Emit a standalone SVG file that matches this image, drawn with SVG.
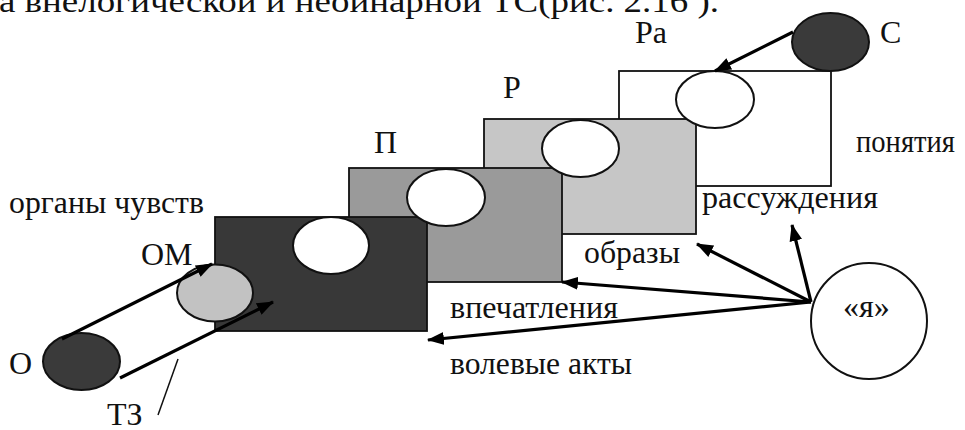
<svg xmlns="http://www.w3.org/2000/svg" width="965" height="430" viewBox="0 0 965 430">
<style>
text{font-family:'Liberation Serif','DejaVu Serif','Times New Roman',serif;font-size:32px;fill:#111}
.box{stroke:#111;stroke-width:1.8}
.el{stroke:#111;stroke-width:2}
.w{fill:#fff}
.con{stroke:#000;stroke-width:3.2;fill:none;stroke-linecap:butt}
</style>
<defs>
<marker id="ah" viewBox="0 0 16 12" refX="15" refY="6" markerWidth="17" markerHeight="13" markerUnits="userSpaceOnUse" orient="auto">
<path d="M0,0 L16,6 L0,12 z" fill="#000"/>
</marker>
</defs>
<rect width="965" height="430" fill="#fff"/>
<text x="-1" y="12" font-size="33" textLength="720" lengthAdjust="spacingAndGlyphs">а внелогической и неоинарной ТС(рис. 2.16 ).</text>

<g id="level-Ra">
<rect class="box" x="619" y="71" width="212" height="115" fill="#fff"/>
<text x="635" y="43">Ра</text>
<text x="856" y="152" textLength="99" lengthAdjust="spacingAndGlyphs">понятия</text>
</g>
<g id="level-R">
<rect class="box" x="484" y="119" width="212" height="115" fill="#c6c6c6"/>
<text x="503" y="98">Р</text>
<text x="702" y="208" textLength="176" lengthAdjust="spacingAndGlyphs">рассуждения</text>
</g>
<g id="level-P">
<rect class="box" x="349" y="168" width="213" height="114" fill="#9a9a9a"/>
<text x="374" y="153">П</text>
<text x="584" y="263" textLength="96" lengthAdjust="spacingAndGlyphs">образы</text>
</g>
<g id="level-OM">
<rect class="box" x="215" y="217" width="212" height="114" fill="#383838"/>
<text x="9" y="213" textLength="195" lengthAdjust="spacingAndGlyphs">органы чувств</text>
<text x="450" y="318" textLength="168" lengthAdjust="spacingAndGlyphs">впечатления</text>
<text x="450" y="374" textLength="182" lengthAdjust="spacingAndGlyphs">волевые акты</text>
</g>

<g id="ell-Ra"><ellipse class="el w" cx="715" cy="99.5" rx="39" ry="28.5"/></g>
<g id="ell-R"><ellipse class="el w" cx="580.5" cy="148.5" rx="38.5" ry="28.5"/></g>
<g id="ell-P"><ellipse class="el w" cx="446" cy="197.5" rx="39" ry="28.5"/></g>
<g id="ell-OM"><ellipse class="el w" cx="331" cy="245.5" rx="38" ry="28.5"/></g>

<g id="node-C">
<ellipse class="el" cx="830.5" cy="42" rx="38.5" ry="29" fill="#3a3a3a"/>
<text x="880" y="43">С</text>
</g>
<g id="node-O">
<ellipse class="el" cx="81.5" cy="361.5" rx="38.5" ry="28.5" fill="#3a3a3a"/>
<text x="9" y="374">О</text>
</g>
<g id="node-OMe">
<ellipse class="el" cx="215" cy="293" rx="38" ry="28.5" fill="#c2c2c2"/>
<text x="141" y="265">ОМ</text>
</g>
<g id="node-ya">
<circle class="el" cx="869" cy="321" r="58" fill="#fff"/>
<text x="843" y="317" font-size="26">«я»</text>
</g>
<g id="label-TZ">
<text x="107" y="425">ТЗ</text>
</g>

<g id="connectors">
<line class="con" x1="793" y1="32" x2="715" y2="71" marker-end="url(#ah)"/>
<line class="con" x1="62" y1="339" x2="212" y2="264" marker-end="url(#ah)"/>
<line class="con" x1="120" y1="378" x2="273" y2="302" marker-end="url(#ah)"/>
<line x1="178" y1="359" x2="158" y2="415" stroke="#111" stroke-width="1.5"/>
<line class="con" x1="811" y1="302" x2="697" y2="244" marker-end="url(#ah)"/>
<line class="con" x1="811" y1="302" x2="792" y2="225" marker-end="url(#ah)"/>
<line class="con" x1="811" y1="302" x2="562" y2="282" marker-end="url(#ah)"/>
<line class="con" x1="811" y1="302" x2="428" y2="340" marker-end="url(#ah)"/>
</g>
</svg>
